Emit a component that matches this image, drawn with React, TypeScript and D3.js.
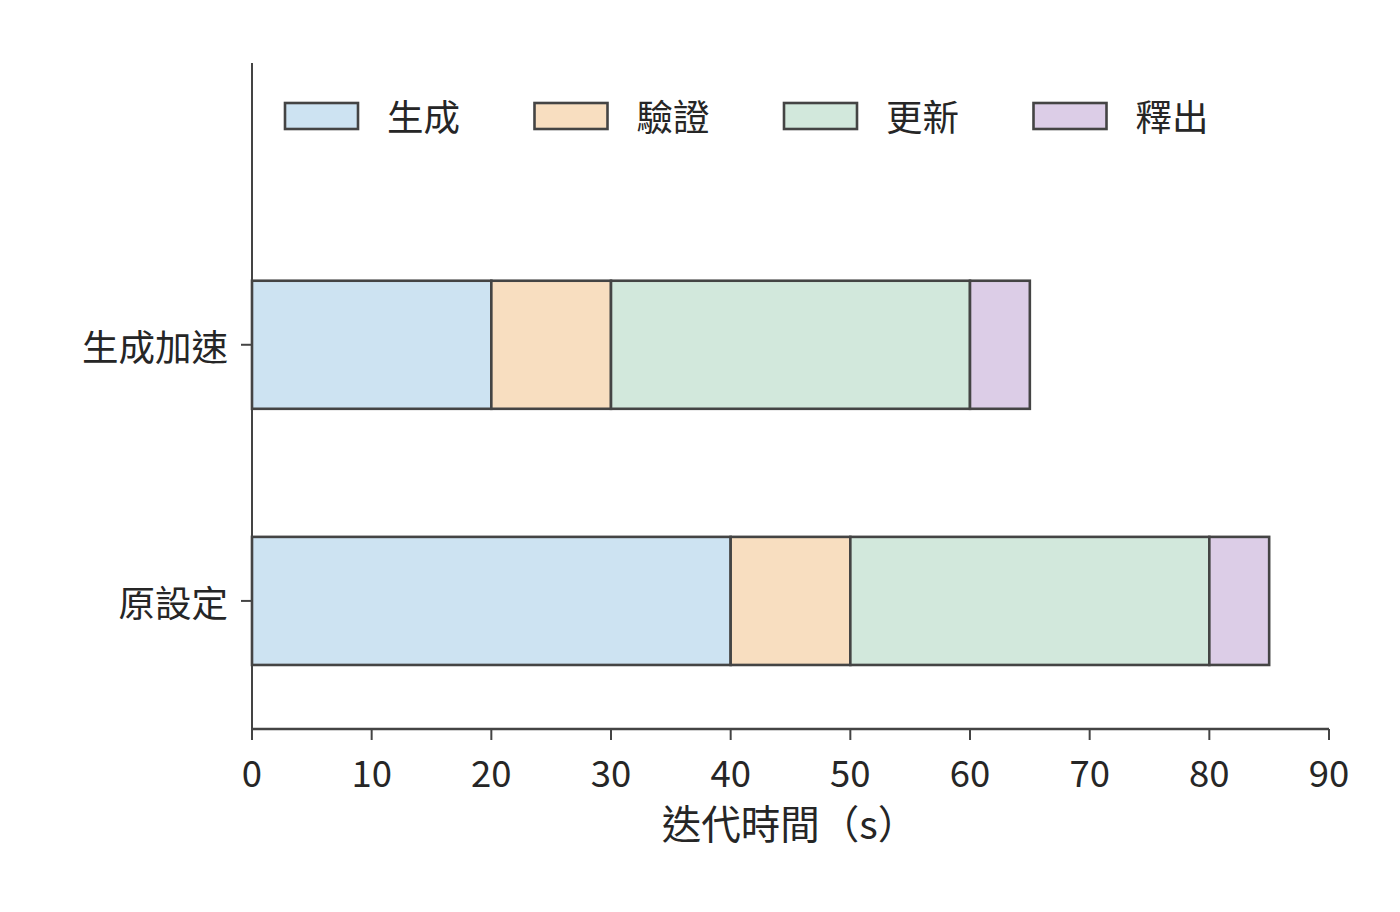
import React from "react";
import * as d3 from "d3";

const categories = ["原設定", "生成加速"];
const seriesNames = ["生成", "驗證", "更新", "釋出"];
const seriesColors = ["#cde3f2", "#f8dec0", "#d2e8dc", "#dccde7"];
const genValues = [40, 20];
const verifyValues = [10, 10];
const updateValues = [30, 30];
const releaseValues = [5, 5];
const xTicks = [0, 10, 20, 30, 40, 50, 60, 70, 80, 90];
const xLabel = "迭代時間（s）";

const W = 1400;
const H = 912;
const FONT = "'Noto Sans CJK TC', 'Noto Sans CJK SC', sans-serif";
const STROKE = "#444444";

export default function App() {
  const x = d3.scaleLinear().domain([0, 90]).range([252, 1329]);
  const y = d3.scaleLinear().domain([-0.5, 2.1]).range([729, 63]);
  const barH = 0.5;
  const series = [genValues, verifyValues, updateValues, releaseValues];

  const rects: React.ReactNode[] = [];
  categories.forEach((cat, ci) => {
    let acc = 0;
    series.forEach((vals, si) => {
      const v = vals[ci];
      const x0 = x(acc);
      const x1 = x(acc + v);
      const yTop = y(ci + barH / 2);
      const yBot = y(ci - barH / 2);
      rects.push(
        <rect
          key={`${ci}-${si}`}
          x={x0}
          y={yTop}
          width={x1 - x0}
          height={yBot - yTop}
          fill={seriesColors[si]}
          stroke={STROKE}
          strokeWidth={2.6}
        />
      );
      acc += v;
    });
  });

  return (
    <svg width={W} height={H} style={{ display: "block", position: "absolute", left: 0, top: 0 }} fontFamily={FONT}>
      <rect x={0} y={0} width={W} height={H} fill="#ffffff" />
      {rects}
      {/* spines */}
      <line x1={x(0)} x2={x(0)} y1={y(2.1)} y2={y(-0.5)} stroke={STROKE} strokeWidth={2} />
      <line x1={x(0)} x2={x(90)} y1={y(-0.5)} y2={y(-0.5)} stroke={STROKE} strokeWidth={2.4} />
      {/* x ticks */}
      {xTicks.map((t) => (
        <g key={t}>
          <line x1={x(t)} x2={x(t)} y1={y(-0.5)} y2={y(-0.5) + 11} stroke={STROKE} strokeWidth={2} />
          <text x={x(t)} y={787} textAnchor="middle" fontSize={36.5} fill="#262626">
            {t}
          </text>
        </g>
      ))}
      <text x={(x(0) + x(90)) / 2 - 1} y={839} textAnchor="middle" fontSize={39.5} fill="#262626">
        {xLabel}
      </text>
      {/* y ticks */}
      {categories.map((c, i) => (
        <g key={c}>
          <line x1={x(0) - 11} x2={x(0)} y1={y(i)} y2={y(i)} stroke={STROKE} strokeWidth={2} />
          <text x={228} y={y(i) + 1} textAnchor="end" dominantBaseline="central" fontSize={36.5} fill="#262626">
            {c}
          </text>
        </g>
      ))}
      {/* legend */}
      {seriesNames.map((n, i) => {
        const lx = 285 + i * 249.5;
        return (
          <g key={n}>
            <rect x={lx} y={103} width={73} height={26} fill={seriesColors[i]} stroke={STROKE} strokeWidth={2.6} />
            <text x={lx + 102} y={115} dominantBaseline="central" fontSize={36.5} fill="#262626">
              {n}
            </text>
          </g>
        );
      })}
    </svg>
  );
}
